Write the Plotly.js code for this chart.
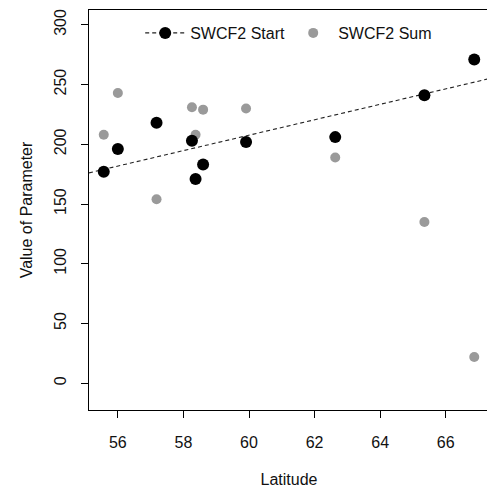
<!DOCTYPE html>
<html>
<head>
<meta charset="utf-8">
<script src="https://cdn.plot.ly/plotly-3.0.1.min.js"></script>
<style>
html,body{margin:0;padding:0;overflow:hidden;background:#fff;width:487px;height:488px;}
#chart{width:495px;height:488px;}
</style>
</head>
<body>
<div id="chart"></div>
<script>
// Data
const latitude = [55.57, 56.0, 57.18, 58.26, 58.37, 58.6, 59.91, 62.63, 65.35, 66.87];
const swcf2Start = [177, 196, 218, 203, 171, 183, 202, 206, 241, 271];
const swcf2Sum = [208, 243, 154, 231, 208, 229, 230, 189, 135, 22];
const seriesNames = ["SWCF2 Start", "SWCF2 Sum"];
const xTicks = [56, 58, 60, 62, 64, 66];
const yTicks = [0, 50, 100, 150, 200, 250, 300];

const xRange = [55.12, 67.32];
const yRange = [-22.4, 312.4];

// least squares fit of Start on latitude
const n = latitude.length;
const mx = latitude.reduce((a, b) => a + b, 0) / n;
const my = swcf2Start.reduce((a, b) => a + b, 0) / n;
let sxy = 0, sxx = 0;
for (let i = 0; i < n; i++) { sxy += (latitude[i] - mx) * (swcf2Start[i] - my); sxx += (latitude[i] - mx) ** 2; }
const slope = sxy / sxx, intercept = my - slope * mx;

// interleave nulls so the legend shows line+marker but no line drawn between points
const gx = [], gy = [];
latitude.forEach((v, i) => { gx.push(v, null); gy.push(swcf2Start[i], null); });

const font = "Liberation Sans, Arial, sans-serif";

const traces = [
  {
    x: xRange, y: xRange.map(v => intercept + slope * v),
    mode: "lines", line: {color: "#222", width: 1.1, dash: "4px,3px"},
    showlegend: false, hoverinfo: "skip"
  },
  {
    x: latitude, y: swcf2Sum, name: seriesNames[1],
    mode: "markers", marker: {color: "#9a9a9a", size: 10}
  },
  {
    x: gx, y: gy, name: seriesNames[0],
    mode: "lines+markers", connectgaps: false,
    line: {color: "#222", width: 1.1, dash: "4px,3px"},
    marker: {color: "#000", size: 12}
  }
];

const layout = {
  width: 495, height: 488,
  margin: {l: 89, r: 6, t: 10, b: 78},
  paper_bgcolor: "#fff", plot_bgcolor: "#fff",
  font: {family: font, size: 16, color: "#111"},
  showlegend: true,
  legend: {
    orientation: "h", x: 0.128, xanchor: "left", y: 0.985, yanchor: "top",
    bgcolor: "rgba(0,0,0,0)", font: {size: 16, family: font, color: "#111"},
    traceorder: "reversed", itemwidth: 40,
    entrywidth: 93, entrywidthmode: "pixels"
  },
  xaxis: {
    range: xRange, tickvals: xTicks, ticktext: xTicks.map(String),
    showgrid: false, zeroline: false,
    showline: true, mirror: true, linecolor: "#000", linewidth: 1,
    ticks: "outside", ticklen: 7, tickcolor: "#000", tickwidth: 1,
    ticklabelstandoff: 11,
    tickfont: {size: 16, family: font},
    title: {text: "Latitude", font: {size: 16, family: font}, standoff: 24}
  },
  yaxis: {
    range: yRange, tickvals: yTicks, ticktext: yTicks.map(String),
    showgrid: false, zeroline: false,
    showline: true, mirror: true, linecolor: "#000", linewidth: 1,
    ticks: "outside", ticklen: 7, tickcolor: "#000", tickwidth: 1,
    tickangle: -90, ticklabelstandoff: 9,
    tickfont: {size: 16, family: font},
    title: {text: "Value of Parameter", font: {size: 16, family: font}, standoff: 14}
  }
};

Plotly.newPlot("chart", traces, layout, {displayModeBar: false, staticPlot: true});
</script>
</body>
</html>
